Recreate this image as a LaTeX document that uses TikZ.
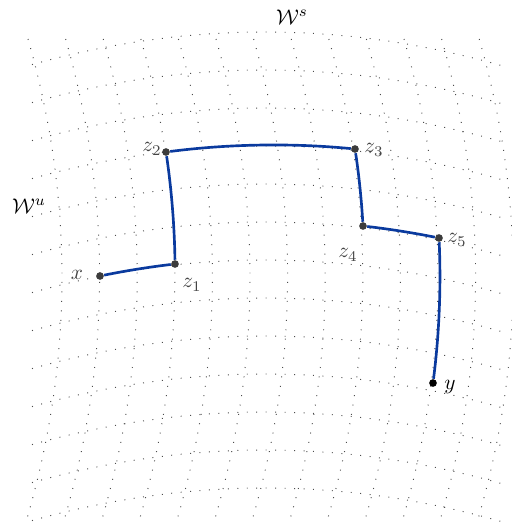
\documentclass[tikz,border=0pt]{standalone}
\definecolor{pathblue}{HTML}{0A3A9E}
\definecolor{ptgray}{HTML}{3C3C3C}
\definecolor{lblgray}{HTML}{444444}
\tikzset{
  griddot/.style={line width=0.45pt, black!70, dash pattern=on 0.45pt off 4pt},
  conn/.style={pathblue, line width=1.25pt},
  pt/.style={circle, fill=ptgray, inner sep=0pt, minimum size=3.6pt},
  ptblack/.style={circle, fill=black, inner sep=0pt, minimum size=3.6pt},
  lbl/.style={text=lblgray, inner sep=0pt},
}
\begin{document}
\begin{tikzpicture}[x=0.47pt, y=-0.47pt]
\useasboundingbox (0,0) rectangle (512,526);
\begin{scope}
\clip (0,0) rectangle (512,526);
\foreach \j in {0,...,12}
  \draw[griddot] plot[domain=32:505, samples=50, smooth]
    (\x, {32+38*\j+6*((\x-265)/100)^2});
\foreach \i in {0,...,12}
  \draw[griddot] plot[domain=39:522, samples=50, smooth]
    ({62+37.6*\i-6*((\x-277)/100)^2}, \x);
\end{scope}

\node[pt] (x) at (100,276) {};
\node[pt] (z1) at (175,264) {};
\node[pt] (z2) at (166,152) {};
\node[pt] (z3) at (355,149) {};
\node[pt] (z4) at (363,226) {};
\node[pt] (z5) at (439,238) {};
\node[ptblack] (y) at (433,383) {};

\draw[conn] (x) .. controls (125,270.9) and (150,266.9) .. (z1);
\draw[conn] (z1) .. controls (174.5,226.7) and (171.5,189.3) .. (z2);
\draw[conn] (z2) .. controls (229,143.9) and (292,142.9) .. (z3);
\draw[conn] (z3) .. controls (358.9,174.7) and (361.5,200.3) .. (z4);
\draw[conn] (z4) .. controls (388.3,228.9) and (413.7,232.9) .. (z5);
\draw[conn] (z5) .. controls (441.2,286.3) and (439.2,334.7) .. (y);

\node[lbl] (lx) at (77,275) {$x$};
\node[lbl] (lz1) at (192,285) {$z_1$};
\node[lbl] (lz2) at (152,149) {$z_2$};
\node[lbl] (lz3) at (374,150) {$z_3$};
\node[lbl] (lz4) at (348,255) {$z_4$};
\node[lbl] (lz5) at (457,240) {$z_5$};
\node[inner sep=0pt] (ly) at (450,387) {$y$};
\node[inner sep=0pt] (ws) at (292,17) {$\mathcal{W}^s$};
\node[inner sep=0pt] (wu) at (29,206) {$\mathcal{W}^u$};
\end{tikzpicture}
\end{document}
